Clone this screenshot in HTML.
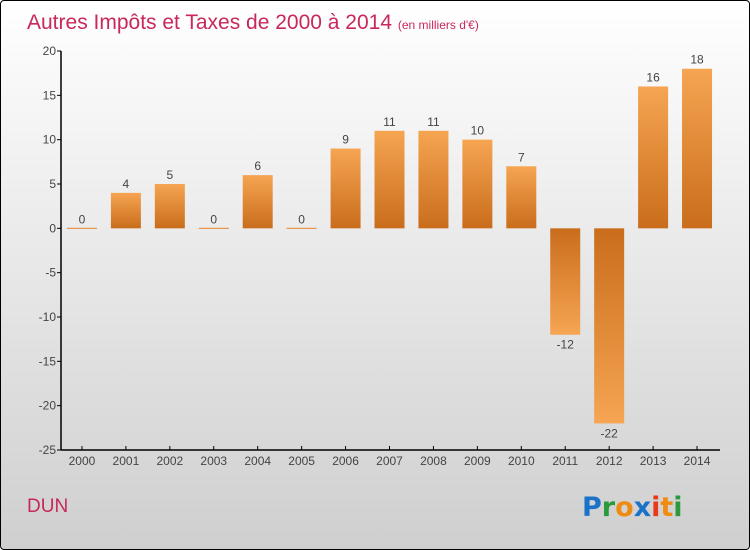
<!DOCTYPE html>
<html><head><meta charset="utf-8"><style>
body{margin:0;width:750px;height:550px;overflow:hidden;font-family:"Liberation Sans",sans-serif}
#frame{position:absolute;left:0;top:0;width:748px;height:548px;border:1px solid #000;border-radius:4px;background:linear-gradient(#ffffff,#cfcfcf)}
</style></head><body>
<div id="frame"></div>
<svg id="c" width="750" height="550" style="position:absolute;left:0;top:0">
<defs>
<linearGradient id="gp" x1="0" y1="0" x2="0" y2="1"><stop offset="0" stop-color="#f6a552"/><stop offset="1" stop-color="#c96d1c"/></linearGradient>
<linearGradient id="gn" x1="0" y1="0" x2="0" y2="1"><stop offset="0" stop-color="#c96d1c"/><stop offset="1" stop-color="#f6a552"/></linearGradient>
</defs>
<text x="27" y="29" font-size="21" fill="#c8285a">Autres Impôts et Taxes de 2000 à 2014 <tspan font-size="12">(en milliers d'€)</tspan></text>
<text x="27" y="512" font-size="19" fill="#c8285a">DUN</text>
<g font-size="27" font-weight="bold" font-family="'DejaVu Sans',sans-serif">
<text x="582" y="516"><tspan fill="#1a73c8">P</tspan><tspan fill="#2a9a3a">r</tspan><tspan fill="#f08a10">o</tspan><tspan fill="#1a73c8">x</tspan><tspan fill="#e83a1a">i</tspan><tspan fill="#f08a10">t</tspan><tspan fill="#2a9a3a">i</tspan></text>
</g>
<g id="g"></g>
</svg>
<script>
const years=["2000","2001","2002","2003","2004","2005","2006","2007","2008","2009","2010","2011","2012","2013","2014"];
const values=[0,4,5,0,6,0,9,11,11,10,7,-12,-22,16,18];
const yTicks=[20,15,10,5,0,-5,-10,-15,-20,-25];
const NS="http://www.w3.org/2000/svg";
const g=document.getElementById('g');
const x0=61,x1=720,yTop=51,yBot=450,vMax=20,vMin=-25;
const y=v=>yTop+(vMax-v)*(yBot-yTop)/(vMax-vMin);
const step=(x1-x0)/years.length;
const xc=i=>x0+step*(i+0.5)-1;
function mk(t,a){const e=document.createElementNS(NS,t);for(const k in a)e.setAttribute(k,a[k]);g.appendChild(e);return e;}
yTicks.forEach(v=>{
 const l=mk('line',{x1:x0-4,x2:x0,y1:y(v),y2:y(v),stroke:'#000'});
 
 
 const t=mk('text',{x:x0-5,y:y(v)+4,'text-anchor':'end','font-size':12,fill:'#444'});t.textContent=v;
 
 
});
years.forEach((yr,i)=>{
 const v=values[i],cx=xc(i),w=30;
 const top=v>=0?y(v):y(0),h=Math.max(Math.abs(y(v)-y(0)),1);
 const r=mk('rect',{x:cx-w/2,y:v===0?y(0)-0.5:top,width:w,height:h,fill:v>=0?'url(#gp)':'url(#gn)'});
 if(v===0){r.setAttribute('fill','#e8822c');}
 
 
 const t=mk('text',{x:cx,y:v>=0?y(v)-5:y(v)+14,'text-anchor':'middle','font-size':12,fill:'#444'});t.textContent=v;
 
 
 const tk=mk('line',{x1:cx,x2:cx,y1:yBot-4,y2:yBot,stroke:'#000'});
 
 
 const xl=mk('text',{x:cx,y:yBot+15,'text-anchor':'middle','font-size':12,fill:'#444'});xl.textContent=yr;
 
 
});
const ya=mk('line',{x1:x0,x2:x0,y1:yTop,y2:yBot,stroke:'#000','stroke-width':1.5});


const xa=mk('line',{x1:x0,x2:x1,y1:yBot,y2:yBot,stroke:'#000','stroke-width':1.5});


</script>
</body></html>
